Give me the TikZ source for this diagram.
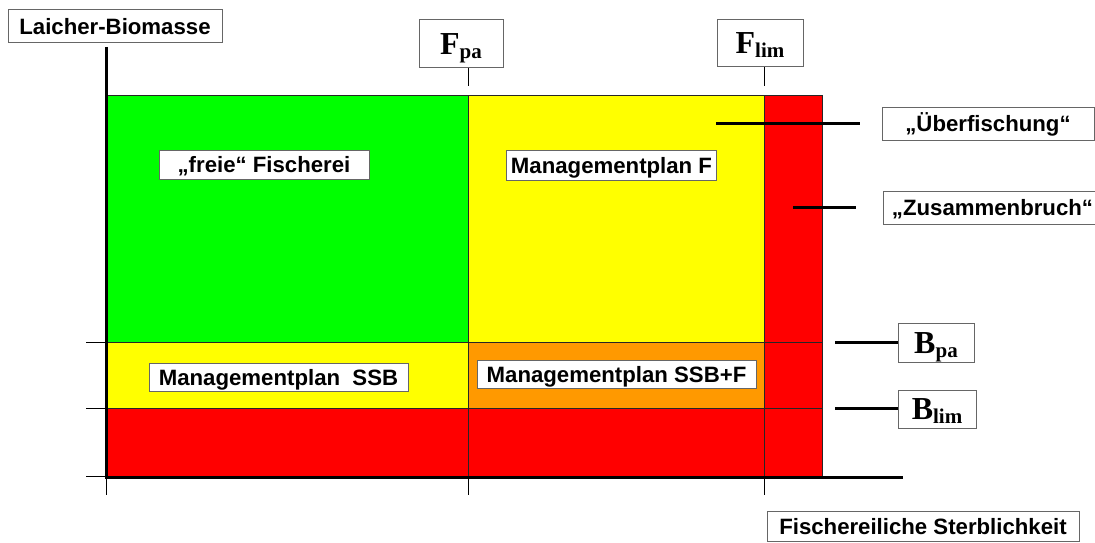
\documentclass[tikz,border=0pt]{standalone}
\usepackage{fontspec}
\setmainfont{Liberation Sans}
\newfontfamily\refserif{Liberation Serif}
\usetikzlibrary{positioning}
\definecolor{zonegreen}{RGB}{0,255,0}
\definecolor{zoneyellow}{RGB}{255,255,0}
\definecolor{zoneorange}{RGB}{255,153,0}
\definecolor{zonered}{RGB}{255,0,0}
\newcommand{\refpt}[2]{{\refserif\bfseries\fontsize{32}{32}\selectfont #1}{\refserif\bfseries\fontsize{21}{21}\selectfont\raisebox{-4pt}{#2}}}

\begin{document}
\begin{tikzpicture}[x=1pt,y=-1pt,
	zone/.style={draw=black!85,line width=1pt},
	lbl/.style={draw=black!60,fill=white,line width=1pt,inner sep=0pt,text height=16pt,text depth=0pt,font=\bfseries\fontsize{22.2}{23}\selectfont},
	reflbl/.style={lbl,text height=21pt},
	axis/.style={line width=3pt},
	tick/.style={line width=1pt},
	lead/.style={line width=3pt}]
	\useasboundingbox (0,0) rectangle (1095,543);
	%\draw[help lines] (0,0) grid[step=50] (1095,543);
	% zones
	\fill[zonegreen] (106,95) rectangle (468,342);
	\fill[zoneyellow] (468,95) rectangle (764,342);
	\fill[zoneyellow] (106,342) rectangle (468,408);
	\fill[zoneorange] (468,342) rectangle (764,408);
	\fill[zonered] (106,408) rectangle (764,476);
	\fill[zonered] (764,95) rectangle (822,476);
	\draw[zone] (106,95) rectangle (822,476);
	\draw[zone] (468,95) -- (468,476) (764,95) -- (764,476);
	\draw[zone] (106,342) -- (822,342) (106,408) -- (822,408);
	% axes
	\draw[axis] (106,47) -- (106,477) -- (903,477);
	\foreach \y in {342,408,476}
		\draw[tick] (86,\y) -- (106,\y);
	\foreach \x in {106,468,764}
		\draw[tick] (\x,477) -- (\x,495);
	% labels
	\node[lbl,minimum width=214pt,minimum height=33pt] (laicher) at (115,26.5) {Laicher-Biomasse};
	\node[lbl,minimum width=312pt,minimum height=30pt] (sterbl) at (923,526) {Fischereiliche Sterblichkeit};
	\node[reflbl,minimum width=84pt,minimum height=48pt] (fpa) at (461,44) {\refpt{F}{pa}};
	\node[reflbl,minimum width=86pt,minimum height=47pt] (flim) at (760,43.5) {\refpt{F}{lim}};
	\node[reflbl,minimum width=76pt,minimum height=39pt] (bpa) at (936,342.5) {\refpt{B}{pa}};
	\node[reflbl,minimum width=78pt,minimum height=38pt] (blim) at (937,409) {\refpt{B}{lim}};
	\node[lbl,minimum width=212pt,minimum height=33pt] (ueber) at (988,123.5) {„Überfischung“};
	\node[lbl,minimum width=219pt,minimum height=33pt] (zus) at (992.5,207.5) {„Zusammenbruch“};
	\node[lbl,minimum width=210pt,minimum height=29pt] (freie) at (264,164.5) {„freie“ Fischerei};
	\node[lbl,minimum width=210pt,minimum height=30pt] (mplf) at (611.5,165) {Managementplan F};
	\node[lbl,minimum width=259pt,minimum height=28pt] (mplssb) at (278.5,377) {Managementplan\ \ SSB};
	\node[lbl,minimum width=279pt,minimum height=28pt] (mplssbf) at (616.5,374) {Managementplan SSB+F};
	% leaders
	\coordinate (fpatick) at (468,86);
	\coordinate (flimtick) at (764,86);
	\coordinate (ueberpt) at (716,123);
	\coordinate (zuspt) at (793,207);
	\coordinate (bpapt) at (835,342);
	\coordinate (blimpt) at (835,408);
	\draw[tick] (fpa.south -| fpatick) -- (fpatick);
	\draw[tick] (flim.south -| flimtick) -- (flimtick);
	\draw[lead] (ueberpt) -- ([xshift=-22pt]ueber.west |- ueberpt);
	\draw[lead] (zuspt) -- ([xshift=-27pt]zus.west |- zuspt);
	\draw[lead] (bpapt) -- (bpa.west |- bpapt);
	\draw[lead] (blimpt) -- (blim.west |- blimpt);
\end{tikzpicture}
\end{document}
